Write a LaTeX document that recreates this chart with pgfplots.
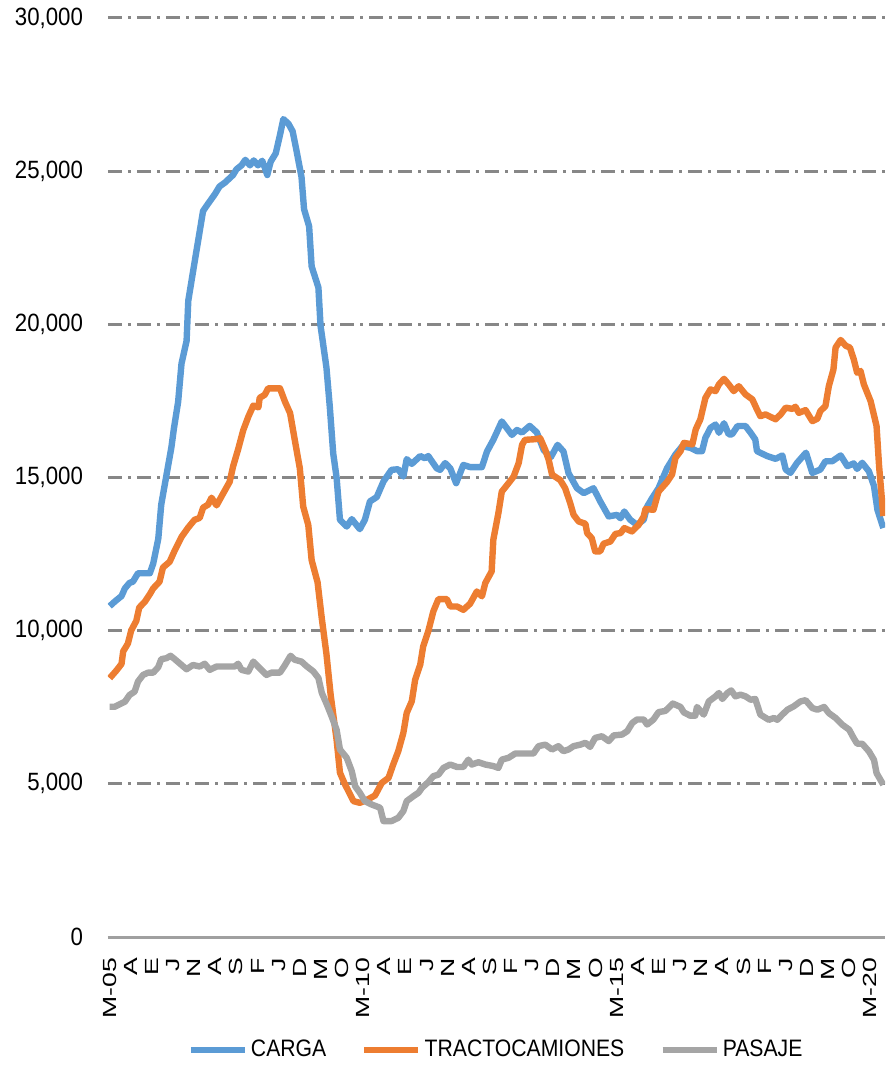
\documentclass[border=0pt]{standalone}
\usepackage{fontspec}
\usepackage{pgfplots}
\pgfplotsset{compat=1.18}
\setmainfont{Liberation Sans}
\newfontfamily\narrowfont[FakeStretch=0.89]{Liberation Sans}
\newfontfamily\widefont[FakeStretch=1.4]{Liberation Sans}
\definecolor{cblue}{HTML}{5B9BD5}
\definecolor{corange}{HTML}{ED7D31}
\definecolor{cgray}{HTML}{A5A5A5}
\definecolor{gridc}{HTML}{878787}
\definecolor{axisc}{HTML}{A0A0A0}

\pgfplotstableread{
m v
0 10800
1.2 10950
2.8 11130
3.6 11380
4.7 11560
5.5 11600
6.7 11875
9.5 11875
10.3 12190
11.5 13000
12.2 14115
13.4 15050
14.6 15980
15.2 16600
16.2 17470
17.0 18720
18.2 19460
18.6 20770
19.7 21700
20.9 22700
22.1 23700
23.3 23940
24.9 24250
26.0 24500
27.3 24630
29.2 24875
30.0 25060
31.2 25190
32.1 25370
33.2 25190
34.1 25350
35.1 25190
36.1 25340
36.7 25120
37.3 24875
38.1 25310
39.3 25580
40.3 26180
41.1 26700
42.3 26550
43.3 26300
44.2 25680
45.4 24810
46.0 23760
47.2 23200
47.8 21890
49.4 21200
49.9 19960
51.3 18590
52.1 17300
52.9 15790
53.7 15000
54.5 13620
56.1 13400
57.3 13640
59.2 13315
60.4 13620
61.6 14220
63.2 14360
64.8 14870
66.7 15250
68.3 15270
69.5 15030
70.3 15600
71.5 15445
73.5 15700
74.6 15630
75.4 15700
77.4 15300
78.2 15250
79.4 15470
80.6 15300
82.0 14815
83.7 15410
85.3 15340
88.1 15340
89.3 15850
90.8 16230
92.8 16830
95.2 16390
96.4 16550
97.6 16470
99.4 16685
101.1 16470
102.7 15900
104.4 15660
106.0 16065
107.4 15850
108.6 15140
110.6 14650
112.2 14490
114.5 14650
116.1 14220
118.1 13730
120.1 13780
120.9 13670
121.8 13890
123.2 13620
124.8 13455
126.4 13620
127.2 14050
128.4 14330
129.9 14650
131.9 15300
133.9 15750
135.5 16020
137.4 15970
139.0 15860
140.2 15860
141.0 16300
142.2 16620
143.4 16730
144.2 16460
145.4 16770
146.5 16410
147.3 16410
148.6 16680
150.5 16680
151.7 16460
152.8 16240
153.2 15860
155.6 15700
157.6 15610
159.2 15720
160.0 15260
161.1 15150
162.7 15480
164.8 15810
166.3 15150
168.2 15260
169.4 15530
171.0 15530
173.0 15720
174.6 15370
176.1 15460
176.9 15280
178.1 15480
179.7 15200
180.9 14720
181.7 13950
183.1 13350
}\carga

\pgfplotstableread{
m v
0 8450
1.6 8700
2.8 8915
3.2 9325
4.3 9575
5.1 10010
6.3 10320
7.0 10755
8.3 10940
9.5 11190
10.3 11380
11.8 11600
12.6 12060
14.2 12250
15.4 12620
17.0 13060
18.6 13370
20.1 13620
21.3 13680
22.1 14015
23.3 14115
24.1 14340
25.3 14090
26.9 14490
28.4 14860
29.2 15360
30.4 15920
31.6 16540
32.8 16980
34.0 17350
35.2 17290
35.5 17600
36.7 17700
37.5 17910
40.3 17910
41.5 17470
42.7 17100
43.8 16230
45.0 15300
45.8 14050
47.0 13450
47.8 12300
49.2 11580
50.2 10400
51.3 9240
52.3 7900
53.7 6445
54.5 5360
55.7 4980
57.7 4435
59.2 4380
60.8 4470
62.8 4620
64.4 5030
66.0 5195
67.1 5630
68.3 6065
69.5 6660
70.3 7315
71.5 7695
72.3 8400
73.5 8890
74.2 9490
75.4 9980
76.6 10630
77.8 11030
79.8 11030
80.6 10790
82.2 10790
83.7 10680
85.3 10880
86.9 11280
88.1 11120
88.9 11555
90.4 11935
90.8 12970
92.0 13840
92.8 14540
94.4 14815
95.6 15030
96.8 15470
97.6 16065
98.3 16230
100.7 16250
101.9 16280
103.1 15900
103.9 15575
104.7 15090
106.6 14920
107.8 14650
109.0 14160
109.8 13780
111.0 13565
112.6 13490
113.0 13185
114.1 13020
114.9 12590
116.1 12590
116.9 12840
118.5 12910
119.7 13160
120.9 13185
121.8 13350
123.6 13240
125.2 13455
126.4 13730
126.8 13970
128.7 13945
129.9 14540
131.9 14850
133.1 15100
133.9 15640
135.1 15860
135.9 16130
137.9 16080
138.7 16570
139.8 16900
141.0 17600
142.2 17875
143.4 17820
144.2 18040
145.4 18220
146.5 18040
147.7 17820
148.9 17980
150.5 17710
152.1 17550
153.2 17220
154.0 17000
155.2 17060
157.6 16900
158.8 17060
160.0 17280
161.6 17240
162.3 17310
163.1 17110
164.7 17200
166.3 16840
167.5 16920
168.2 17170
169.4 17330
170.2 17980
171.3 18530
171.8 19240
173.0 19490
174.2 19300
175.2 19240
176.1 18860
176.9 18420
177.7 18480
178.5 18040
180.1 17490
181.5 16680
182.1 15370
183.1 13740
}\tracto

\pgfplotstableread{
m v
0 7517
1.2 7517
2.4 7600
3.6 7680
4.7 7900
5.9 8010
6.7 8340
7.9 8555
9.1 8630
10.3 8630
11.5 8810
12.2 9070
13.4 9100
14.4 9180
15.4 9070
17.0 8880
18.2 8740
19.7 8880
21.3 8830
22.5 8920
23.7 8720
25.3 8830
29.6 8830
30.4 8920
31.2 8720
32.8 8665
34.0 8990
35.1 8830
37.1 8555
38.3 8630
40.3 8630
41.5 8880
42.8 9180
43.8 9050
45.4 8990
46.6 8840
48.2 8670
49.4 8455
50.2 7970
51.4 7590
52.5 7210
53.7 6770
54.5 6120
56.1 5850
57.3 5410
58.1 4920
59.2 4710
60.4 4435
62.0 4325
64.0 4220
64.8 3785
66.7 3785
68.3 3890
69.5 4110
70.3 4435
71.9 4600
73.1 4710
73.9 4870
75.4 5055
76.6 5250
77.8 5300
79.0 5520
80.6 5630
82.2 5550
83.7 5550
84.9 5790
85.7 5630
87.3 5705
88.9 5630
90.8 5580
92.0 5520
92.8 5790
94.4 5850
96.0 5990
100.3 5990
101.5 6230
103.1 6280
104.7 6120
106.2 6230
107.4 6065
108.6 6120
109.8 6230
111.4 6280
112.6 6340
113.7 6205
114.9 6500
116.5 6555
118.1 6395
119.3 6580
121.3 6610
122.5 6720
123.7 6990
124.8 7100
126.4 7100
127.2 6935
128.7 7100
129.9 7340
131.5 7380
133.3 7620
135.1 7510
135.9 7330
137.4 7225
138.6 7225
139.0 7510
140.6 7260
141.8 7690
143.4 7855
144.2 7965
145.0 7770
146.2 7965
147.1 8050
148.1 7855
149.3 7910
150.5 7855
151.7 7745
152.8 7770
154.0 7260
156.0 7090
157.2 7150
158.0 7090
159.2 7260
160.4 7420
161.9 7530
163.5 7690
164.7 7730
166.3 7475
167.5 7420
169.1 7510
170.2 7310
171.8 7150
173.4 6930
175.0 6770
176.1 6490
176.9 6310
178.1 6310
179.7 6060
180.9 5780
181.5 5350
183.1 4970
}\pasaje

\begin{document}
\begin{tikzpicture}
\useasboundingbox (-54pt,-64.5pt) rectangle (388.5pt,468.5pt);
\begin{axis}[
  width=388.5pt, height=459.5pt, scale only axis,
  xmin=-0.4, xmax=183.5, ymin=0, ymax=30000,
  axis lines*=left,
  y axis line style={draw=none},
  x axis line style={axisc, line width=1.5pt},
  ytick={0,5000,...,30000},
  scaled y ticks=false,
  xtick={0,5,...,180},
  xticklabels={M-05,A,E,J,N,A,S,F,J,D,M,O,M-10,A,E,J,N,A,S,F,J,D,M,O,M-15,A,E,J,N,A,S,F,J,D,M,O,M-20},
  major tick length=0pt,
  ymajorgrids,
  major grid style={gridc, line width=1.5pt, dash pattern=on 7pt off 3pt on 1.5pt off 3pt},
  /pgf/number format/fixed,
  /pgf/number format/1000 sep={,},
  /pgf/number format/assume math mode=true,
  yticklabel style={font=\narrowfont\fontsize{12.5}{13}\selectfont},
  yticklabel shift=9pt,
  xticklabel style={font=\widefont\fontsize{9.5}{10}\selectfont, rotate=90, anchor=east},
  xticklabel shift=7pt,
  legend style={at={(0.5,-0.123)}, anchor=center, draw=none, fill=none,
    legend columns=-1, font=\narrowfont\fontsize{11.9}{13}\selectfont,
    nodes={inner sep=1.5pt}},
  legend image code/.code={\draw[#1, line width=3.2pt] (0pt,0pt) -- (27pt,0pt);},
  every axis plot/.append style={line width=3.2pt, line join=round, mark=none},
]
\addplot[cblue] table[x=m,y=v] {\carga};
\addlegendentry{CARGA\rule{16pt}{0pt}}
\addplot[corange] table[x=m,y=v] {\tracto};
\addlegendentry{TRACTOCAMIONES\rule{16pt}{0pt}}
\addplot[cgray] table[x=m,y=v] {\pasaje};
\addlegendentry{PASAJE}
\end{axis}
\end{tikzpicture}
\end{document}
